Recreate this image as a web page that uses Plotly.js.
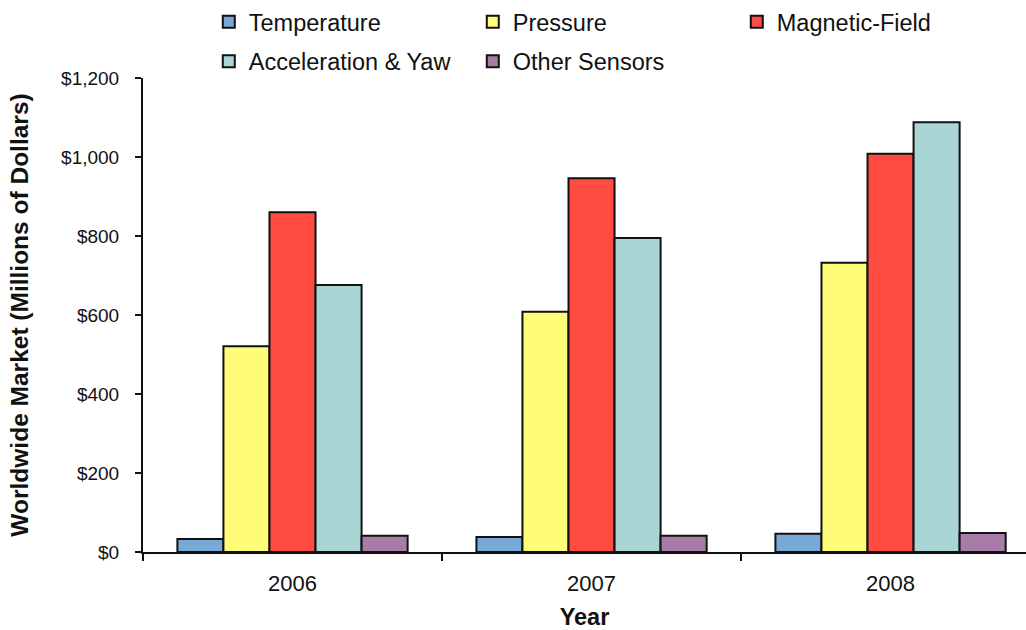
<!DOCTYPE html>
<html>
<head>
<meta charset="utf-8">
<script src="https://cdn.plot.ly/plotly-3.0.1.min.js"></script>
<style>html,body{margin:0;padding:0;background:#fff;}#chart{width:1026px;height:630px;}</style>
</head>
<body>
<div id="chart"></div>
<script>
const years = ["2006", "2007", "2008"];
const temperature = [33, 38, 46];
const pressure = [521, 608, 732];
const magneticField = [860, 946, 1008];
const accelerationYaw = [676, 795, 1088];
const otherSensors = [41, 41, 48];
const yTickVals = [0, 200, 400, 600, 800, 1000, 1200];
const yTickText = ["$0", "$200", "$400", "$600", "$800", "$1,000", "$1,200"];

const outline = {color: "#111", width: 2};
function bar(name, vals, color, legend) {
  return {type: "bar", name: name, x: years, y: vals, legend: legend,
    marker: {color: color, line: outline}, hoverinfo: "x+y+name"};
}
const data = [
  bar("Temperature", temperature, "#78A8D6", "legend"),
  bar("Pressure", pressure, "#FFFC78", "legend"),
  bar("Magnetic-Field", magneticField, "#FF4B42", "legend"),
  bar("Acceleration & Yaw", accelerationYaw, "#A9D5D5", "legend2"),
  bar("Other Sensors", otherSensors, "#A87CA8", "legend2")
];
const font = {family: "Liberation Sans, Arial, sans-serif", color: "#111"};
const legendBase = {orientation: "h", xanchor: "left", yanchor: "middle", x: 0.0745,
  font: Object.assign({}, font, {size: 23.5}), entrywidth: 219, entrywidthmode: "pixels",
  bgcolor: "rgba(0,0,0,0)", traceorder: "normal", itemwidth: 30};
const layout = {
  width: 1026, height: 630,
  margin: {l: 143, r: 0, t: 78, b: 78},
  paper_bgcolor: "#fff", plot_bgcolor: "#fff",
  font: font,
  barmode: "group", bargap: 0.23, bargroupgap: 0,
  showlegend: true,
  legend: Object.assign({}, legendBase, {y: 1.118}),
  legend2: Object.assign({}, legendBase, {y: 1.035}),
  xaxis: {type: "category", range: [-0.5, 2.453], showline: true, linecolor: "#111", linewidth: 2,
    ticks: "outside", tickson: "boundaries", ticklen: 7, tickwidth: 2, tickcolor: "#111",
    showgrid: false, zeroline: false, tickfont: Object.assign({}, font, {size: 22}),
    ticklabelstandoff: 11,
    title: {text: "<b>Year</b>", font: Object.assign({}, font, {size: 23.5}), standoff: 17}},
  yaxis: {range: [0, 1200], tickvals: yTickVals, ticktext: yTickText, showline: true,
    linecolor: "#111", linewidth: 2, ticks: "outside", ticklen: 6, tickwidth: 2, tickcolor: "#111",
    showgrid: false, zeroline: false, tickfont: Object.assign({}, font, {size: 19}),
    ticklabelstandoff: 12,
    title: {text: "<b>Worldwide Market (Millions of Dollars)</b>", font: Object.assign({}, font, {size: 24.5}), standoff: 26}}
};
Plotly.newPlot("chart", data, layout, {displayModeBar: false, staticPlot: true});
</script>
</body>
</html>
